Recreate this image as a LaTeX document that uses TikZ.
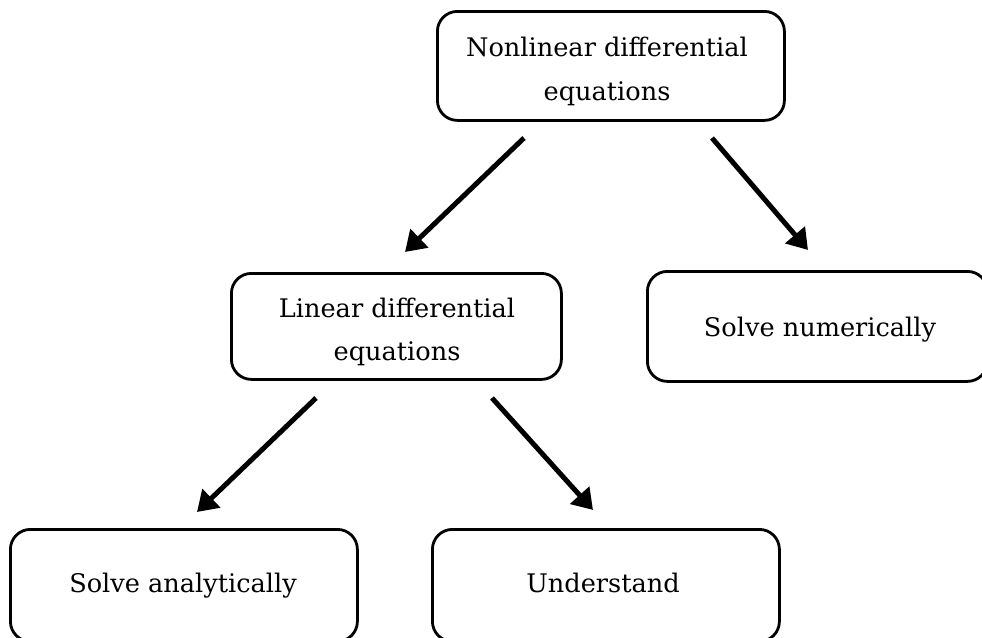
\documentclass[tikz,border=0pt]{standalone}
\usepackage{fontspec}
\setmainfont{DejaVu Serif}
\usetikzlibrary{arrows.meta}
\begin{document}
\begin{tikzpicture}[x=1pt,y=-1pt,
  box/.style={draw,line width=2.8pt,rounded corners=20pt,anchor=north west,inner sep=0pt},
  lbl/.style={font=\fontsize{25.6}{36}\selectfont,anchor=base,inner sep=0pt,align=center},
  arr/.style={line width=5pt,-{Triangle[length=20pt,width=25pt]}}]
\useasboundingbox (0,0) rectangle (982,637);
% boxes
\node[box,minimum width=347pt,minimum height=109pt] (top) at (436,10) {};
\node[box,minimum width=330pt,minimum height=106pt] (lin) at (230,272) {};
\node[box,minimum width=340pt,minimum height=110pt] (num) at (646,270) {};
\node[box,minimum width=347pt,minimum height=112pt] (ana) at (9,528) {};
\node[box,minimum width=347pt,minimum height=112pt] (und) at (431,528) {};
% texts
\node[lbl] (t1) at (607,56) {Nonlinear differential};
\node[lbl] (t2) at (607,100) {equations};
\node[lbl] (t3) at (397,317) {Linear differential};
\node[lbl] (t4) at (397,360) {equations};
\node[lbl] (t5) at (820,336) {Solve numerically};
\node[lbl] (t6) at (183,592) {Solve analytically};
\node[lbl] (t7) at (603,592) {Understand};
% arrow end points
\coordinate (a1s) at (524,138); \coordinate (a1e) at (405,252);
\coordinate (a2s) at (712,138); \coordinate (a2e) at (808,250);
\coordinate (a3s) at (316,398); \coordinate (a3e) at (197,512);
\coordinate (a4s) at (492,398); \coordinate (a4e) at (593,510);
\draw[arr] (a1s) -- (a1e);
\draw[arr] (a2s) -- (a2e);
\draw[arr] (a3s) -- (a3e);
\draw[arr] (a4s) -- (a4e);
\end{tikzpicture}
\end{document}
